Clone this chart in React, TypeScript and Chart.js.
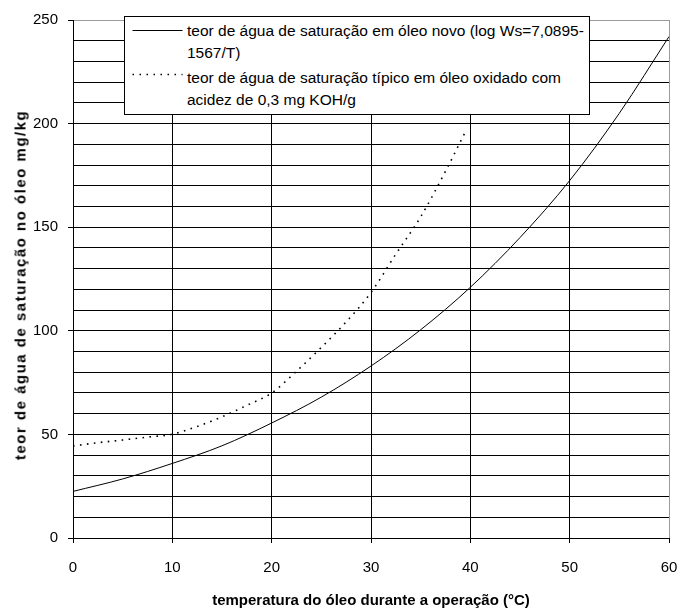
import React, { useEffect, useRef } from "react";
import { Chart, registerables } from "chart.js";

Chart.register(...registerables);

// Data
const solidTemps = [0, 5, 10, 15, 20, 25, 30, 35, 40, 45, 50, 55, 60];
const solidValues = [22.5, 28.5, 36, 44.5, 55.5, 68, 83, 100.5, 121, 145, 172.5, 205, 242];

const dottedTemps = [0, 2.5, 5, 7.5, 10, 12.5, 15, 17.5, 20, 22.5, 25, 27.5, 30, 32.5, 35, 37.5, 39.6];
const dottedValues = [44.4, 46, 47.3, 48.7, 50.1, 53.8, 58.5, 64, 70, 80.5, 92, 104.3, 118.5, 137, 155, 177, 197];

const legendSolid = ["teor de água de saturação em óleo novo (log Ws=7,0895-", "1567/T)"];
const legendDotted = ["teor de água de saturação típico em óleo oxidado com", "acidez de 0,3 mg KOH/g"];
const xTitle = "temperatura do óleo durante a operação (°C)";
const yTitle = "teor de água de saturação no óleo mg/kg";

const FONT = "'Liberation Sans', Arial, Helvetica, sans-serif";

export default function App() {
  const ref = useRef<HTMLCanvasElement | null>(null);

  useEffect(() => {
    if (!ref.current) return;
    const chart = new Chart(ref.current, {
      type: "line",
      data: {
        datasets: [
          {
            label: legendSolid.join(" "),
            data: solidTemps.map((t, i) => ({ x: t, y: solidValues[i] })),
            borderColor: "#000",
            borderWidth: 1,
            pointRadius: 0,
            fill: false,
            cubicInterpolationMode: "monotone",
          },
          {
            label: legendDotted.join(" "),
            data: dottedTemps.map((t, i) => ({ x: t, y: dottedValues[i] })),
            borderColor: "#000",
            borderWidth: 1.6,
            borderDash: [1.6, 5.4],
            pointRadius: 0,
            fill: false,
            cubicInterpolationMode: "monotone",
          },
        ],
      },
      options: {
        responsive: false,
        animation: false,
        devicePixelRatio: 1,
        layout: { padding: { top: 20, right: 10, left: 0, bottom: 0 } },
        plugins: {
          legend: { display: false },
          tooltip: { enabled: false },
          title: { display: false },
        },
        scales: {
          x: {
            type: "linear",
            min: 0,
            max: 60,
            ticks: {
              stepSize: 10,
              color: "#000",
              font: { family: FONT, size: 15 },
              padding: 16,
              maxRotation: 0,
              autoSkip: false,
            },
            grid: {
              color: (ctx: any) => (ctx.tick && ctx.tick.value === 60 ? "#9a9a9a" : "#000"),
              tickColor: "#000",
              tickLength: 5,
              lineWidth: 1,
            },
            border: { color: "#000", width: 1 },
            afterFit: (s: any) => {
              s.height = 70;
              s.paddingRight = 0;
              s.paddingLeft = 0;
            },
          },
          y: {
            type: "linear",
            min: 0,
            max: 250,
            ticks: {
              stepSize: 10,
              color: "#000",
              font: { family: FONT, size: 15 },
              padding: 10,
              autoSkip: false,
              callback: (v: any) => (Number(v) % 50 === 0 ? String(v) : ""),
            },
            grid: {
              color: (ctx: any) => (ctx.tick && ctx.tick.value === 250 ? "#9a9a9a" : "#000"),
              tickColor: (ctx: any) =>
                ctx.tick && ctx.tick.value % 50 === 0 ? "#000" : "rgba(0,0,0,0)",
              tickLength: 5,
              lineWidth: 1,
            },
            border: { color: "#000", width: 1 },
            afterFit: (s: any) => {
              s.width = 73;
            },
          },
        },
      },
    });
    return () => chart.destroy();
  }, []);

  const textStyle: React.CSSProperties = {
    fontFamily: FONT,
    fontSize: 15.5,
    lineHeight: "22px",
    color: "#000",
    whiteSpace: "nowrap",
    position: "absolute",
    left: 62,
  };

  return (
    <div style={{ position: "absolute", left: 0, top: 0, width: 679, height: 608, background: "#fff" }}>
      <canvas ref={ref} width={679} height={608} style={{ width: 679, height: 608, display: "block" }} />
      <div
        style={{
          position: "absolute",
          left: 124,
          top: 16,
          width: 466,
          height: 99,
          border: "1px solid #000",
          background: "#fff",
          boxSizing: "border-box",
        }}
      >
        <svg style={{ position: "absolute", left: 7, top: 0 }} width={52} height={97}>
          <line x1={0.5} y1={13.5} x2={50.5} y2={13.5} stroke="#000" strokeWidth={1} />
          <line x1={0.5} y1={57.5} x2={50.5} y2={57.5} stroke="#000" strokeWidth={1.5} strokeDasharray="1.5 5.5" />
        </svg>
        <div style={{ ...textStyle, top: 3 }}>
          {legendSolid[0]}
          <br />
          {legendSolid[1]}
        </div>
        <div style={{ ...textStyle, top: 50 }}>
          {legendDotted[0]}
          <br />
          {legendDotted[1]}
        </div>
      </div>
      <div
        style={{
          position: "absolute",
          left: 371,
          top: 599,
          transform: "translate(-50%, -50%)",
          fontFamily: FONT,
          fontWeight: "bold",
          fontSize: 15,
          whiteSpace: "nowrap",
          color: "#000",
        }}
      >
        {xTitle}
      </div>
      <div
        style={{
          position: "absolute",
          left: 20,
          top: 285,
          transform: "translate(-50%, -50%) rotate(-90deg)",
          fontFamily: FONT,
          fontWeight: "bold",
          fontSize: 15,
          letterSpacing: "1.5px",
          whiteSpace: "nowrap",
          color: "#000",
        }}
      >
        {yTitle}
      </div>
    </div>
  );
}
